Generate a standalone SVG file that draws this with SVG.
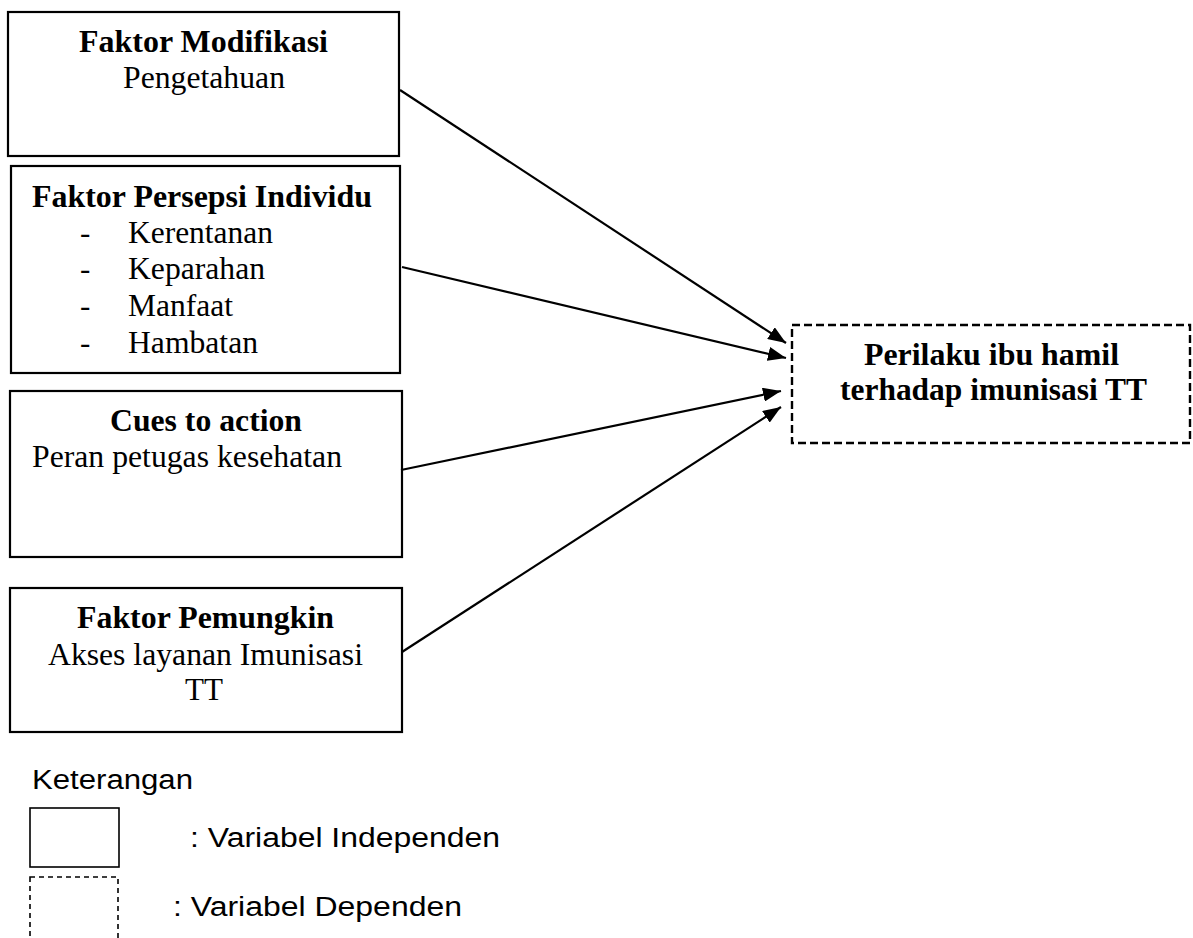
<svg xmlns="http://www.w3.org/2000/svg" width="1193" height="938" viewBox="0 0 1193 938">
<style>
.box{fill:#fff;stroke:#000;stroke-width:2.2}
.dbox{fill:#fff;stroke:#000;stroke-width:2.4;stroke-dasharray:8 4}
.ldbox{fill:none;stroke:#000;stroke-width:1.6;stroke-dasharray:5 4}
.t{font-family:"Liberation Serif","Times New Roman",serif;font-size:31px;fill:#000}
.b{font-weight:bold}
.s{font-family:"Liberation Sans",Arial,sans-serif;font-size:27px;fill:#000}
.c{stroke:#000;stroke-width:2.2;fill:none;marker-end:url(#arrow)}
</style>
<defs>
<marker id="arrow" viewBox="0 0 18 14" refX="18" refY="7" markerWidth="18" markerHeight="14" markerUnits="userSpaceOnUse" orient="auto">
<path d="M0,0 L18,7 L0,14 z" fill="#000"/>
</marker>
</defs>
<g id="n1">
<rect class="box" x="8" y="12" width="391" height="144"/>
<text class="t b" x="79" y="52" textLength="249" lengthAdjust="spacingAndGlyphs">Faktor Modifikasi</text>
<text class="t" x="123" y="88" textLength="162" lengthAdjust="spacingAndGlyphs">Pengetahuan</text>
</g>
<g id="n2">
<rect class="box" x="11" y="166" width="389" height="207"/>
<text class="t b" x="32" y="207" textLength="340" lengthAdjust="spacingAndGlyphs">Faktor Persepsi Individu</text>
<text class="t" x="80" y="243">-</text><text class="t" x="128" y="243" textLength="145" lengthAdjust="spacingAndGlyphs">Kerentanan</text>
<text class="t" x="80" y="279">-</text><text class="t" x="128" y="279" textLength="137" lengthAdjust="spacingAndGlyphs">Keparahan</text>
<text class="t" x="80" y="316">-</text><text class="t" x="128" y="316" textLength="105" lengthAdjust="spacingAndGlyphs">Manfaat</text>
<text class="t" x="80" y="353">-</text><text class="t" x="128" y="353" textLength="130" lengthAdjust="spacingAndGlyphs">Hambatan</text>
</g>
<g id="n3">
<rect class="box" x="10" y="391" width="392" height="166"/>
<text class="t b" x="110" y="431" textLength="192" lengthAdjust="spacingAndGlyphs">Cues to action</text>
<text class="t" x="32" y="467" textLength="310" lengthAdjust="spacingAndGlyphs">Peran petugas kesehatan</text>
</g>
<g id="n4">
<rect class="box" x="10" y="588" width="392" height="144"/>
<text class="t b" x="77" y="628" textLength="257" lengthAdjust="spacingAndGlyphs">Faktor Pemungkin</text>
<text class="t" x="48" y="665" textLength="315" lengthAdjust="spacingAndGlyphs">Akses layanan Imunisasi</text>
<text class="t" x="185" y="700" textLength="38" lengthAdjust="spacingAndGlyphs">TT</text>
</g>
<g id="n5">
<rect class="dbox" x="792" y="325" width="398" height="118"/>
<text class="t b" x="864" y="365" textLength="255" lengthAdjust="spacingAndGlyphs">Perilaku ibu hamil</text>
<text class="t b" x="840" y="400" textLength="307" lengthAdjust="spacingAndGlyphs">terhadap imunisasi TT</text>
</g>
<g id="connectors">
<line class="c" x1="400" y1="90" x2="786" y2="343"/>
<line class="c" x1="402" y1="267" x2="786" y2="358"/>
<line class="c" x1="401" y1="470" x2="781" y2="391"/>
<line class="c" x1="402" y1="652" x2="781" y2="407"/>
</g>
<g id="legend">
<text class="s" x="32" y="789" textLength="161" lengthAdjust="spacingAndGlyphs">Keterangan</text>
<rect class="box" x="30" y="808" width="89" height="59" style="stroke-width:1.6"/>
<text class="s" x="190" y="847" textLength="310" lengthAdjust="spacingAndGlyphs">: Variabel Independen</text>
<rect class="ldbox" x="30" y="877" width="88" height="90"/>
<text class="s" x="173" y="916" textLength="289" lengthAdjust="spacingAndGlyphs">: Variabel Dependen</text>
</g>
</svg>
